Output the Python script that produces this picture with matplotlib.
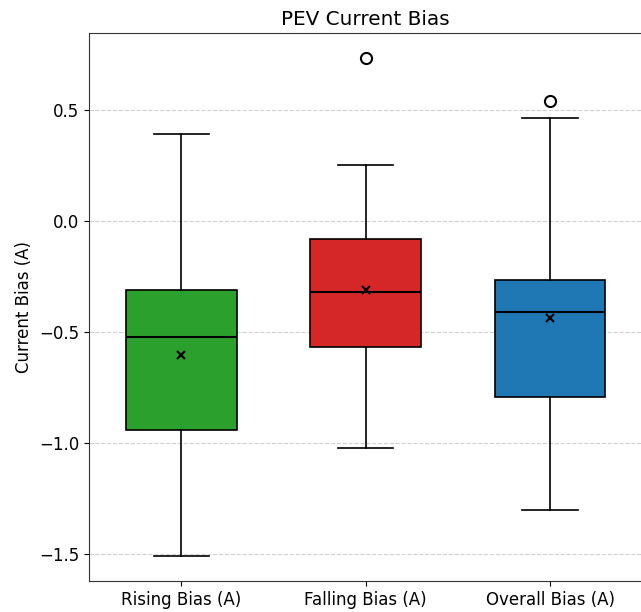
import matplotlib
matplotlib.use("Agg")
import matplotlib.pyplot as plt

labels = ["Rising Bias (A)", "Falling Bias (A)", "Overall Bias (A)"]
whislo = [-1.509, -1.023, -1.302]
q1 = [-0.941, -0.568, -0.793]
med = [-0.523, -0.320, -0.410]
q3 = [-0.311, -0.081, -0.266]
whishi = [0.392, 0.252, 0.464]
means = [-0.604, -0.311, -0.437]
fliers = [[], [0.734], [0.541]]
colors = ["#2ca02c", "#d62728", "#1f77b4"]

plt.rcParams['font.size'] = 12
fig = plt.figure(figsize=(6.41, 6.12), dpi=100)
ax = fig.add_axes([89/641, 31/612, 1 - 89/641 + 0.002, (581-33)/612])

stats = []
for i in range(3):
    stats.append(dict(label=labels[i], whislo=whislo[i], q1=q1[i], med=med[i],
                      q3=q3[i], whishi=whishi[i], mean=means[i], fliers=fliers[i]))

lw = 1.2
bp = ax.bxp(stats, widths=0.6, patch_artist=True, showmeans=True,
            meanprops=dict(marker='x', markeredgecolor='black', markersize=6, markeredgewidth=1.5),
            medianprops=dict(color='black', linewidth=1.5),
            flierprops=dict(marker='o', markerfacecolor='none', markeredgecolor='black',
                            markersize=8, markeredgewidth=1.5),
            boxprops=dict(edgecolor='black', linewidth=lw),
            whiskerprops=dict(linewidth=lw),
            capprops=dict(linewidth=lw))
for patch, c in zip(bp['boxes'], colors):
    patch.set_facecolor(c)

ax.set_xlim(0.5, 3.5)
ax.set_ylim(-1.622, 0.847)
ax.yaxis.grid(True, linestyle='--', color='#cccccc', alpha=0.9)
ax.set_axisbelow(True)
for s in ax.spines.values():
    s.set_color('#333333')
ax.set_ylabel("Current Bias (A)")
ax.set_title("PEV Current Bias", fontsize=14.4)

fig.savefig("out.png", dpi=100)
